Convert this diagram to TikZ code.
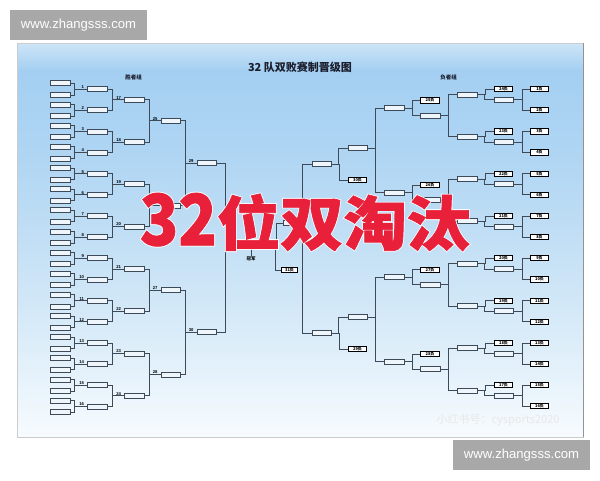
\documentclass[tikz,border=0pt]{standalone}
\usepackage{graphicx}
\usepackage{fontspec}
\setmainfont{Liberation Sans}
\newfontfamily\cjk{Noto Sans CJK SC}
\newfontfamily\cjkheavy{Noto Sans CJK SC}[FakeBold=1.2]
\newfontfamily\cjkhalo{Noto Sans CJK SC}[FakeBold=4]
\usetikzlibrary{calc}

\definecolor{linegray}{HTML}{3E4A57}
\definecolor{slotfill}{HTML}{EEF5FB}
\definecolor{markgray}{HTML}{A8A8A8}
\definecolor{titleink}{HTML}{1B1F2E}
\definecolor{bannerred}{RGB}{232,32,58}
\definecolor{skytop}{HTML}{CDE5F7}
\definecolor{skyband}{HTML}{A4CFF2}
\definecolor{skyhigh}{HTML}{AFD5F3}
\definecolor{skymid}{HTML}{C4E0F5}
\definecolor{skylow}{HTML}{DCEDF9}
\definecolor{skyfoot}{HTML}{F7FBFE}
\pgfdeclareverticalshading{panelsky}{100bp}{color(0bp)=(skyfoot); color(25bp)=(skyfoot);
  color(37bp)=(skylow); color(49bp)=(skymid); color(61bp)=(skyhigh);
  color(71.5bp)=(skyband); color(75bp)=(skytop); color(100bp)=(skytop)}

\newcommand\bannertext[1]{\resizebox*{330pt}{58pt}{#1\bfseries\scalebox{1}[1.2]{32}位双淘汰}}

\begin{document}
\begin{tikzpicture}[x=1pt,y=-1pt,label distance=2.5pt,
  slot/.style={draw=linegray, line width=.5pt, fill=slotfill, minimum width=19.5pt, minimum height=5pt, inner sep=0pt},
  losebox/.style={draw=black, line width=.8pt, fill=white, minimum width=18.5pt, minimum height=5.2pt, inner sep=0pt, font=\cjk\bfseries\fontsize{4}{4}\selectfont},
  num/.style={font=\bfseries\fontsize{4.2}{4}\selectfont, inner sep=.3pt, anchor=south east},
  link/.style={draw=linegray, line width=.55pt},
  sitemark/.style={fill=markgray, text=white, minimum width=137pt, minimum height=30pt, inner sep=0pt, font=\fontsize{13.1}{13}\selectfont},
  grouphead/.style={font=\cjk\bfseries\fontsize{5.5}{5.5}\selectfont, text=titleink, inner sep=0pt},
  ]
\useasboundingbox (0,0) rectangle (600,480);
\fill[white] (0,0) rectangle (600,480);

% poster panel
\shade[shading=panelsky] (17,43) rectangle (583,437);
\draw[gray!40, line width=.6pt] (17,43) rectangle (583,437);
\draw[gray!85, line width=.7pt] (583,43) -- (583,437);

% site marks
\node[sitemark] (markA) at (78.5,25) {www.zhangsss.com};
\node[sitemark] (markB) at (521.5,455) {www.zhangsss.com};

% headings
\node[font=\cjk\bfseries\fontsize{11}{11}\selectfont, text=titleink] (title) at (300,67) {32 队双败赛制晋级图};
\node[grouphead] (winhead) at (133.5,77) {胜者组};
\node[grouphead] (losehead) at (448.5,77) {负者组};

% winners bracket
\foreach \k in {1,...,16}{
  \pgfmathsetmacro\yk{89+(\k-1)*21.15}
  \pgfmathtruncatemacro\pa{2*\k-1}
  \pgfmathtruncatemacro\pb{2*\k}
  \node[slot] (p\pa) at (60,\yk-5.8) {};
  \node[slot] (p\pb) at (60,\yk+5.8) {};
  \node[slot, label={[num]west:\k}] (wa\k) at (97,\yk) {};
  \draw[link] (p\pa.east) -- ++(4.5,0) |- (wa\k.west);
  \draw[link] (p\pb.east) -- ++(4.5,0) |- (wa\k.west);
}
\foreach \j in {1,...,8}{
  \pgfmathtruncatemacro\ja{2*\j-1}
  \pgfmathtruncatemacro\jb{2*\j}
  \pgfmathtruncatemacro\jn{16+\j}
  \node[slot, label={[num]west:\jn}] (wb\j) at (134,{89+(2*\j-1.5)*21.15}) {};
  \draw[link] (wa\ja.east) -- ++(5.5,0) |- (wb\j.west);
  \draw[link] (wa\jb.east) -- ++(5.5,0) |- (wb\j.west);
}
\foreach \i in {1,...,4}{
  \pgfmathtruncatemacro\ia{2*\i-1}
  \pgfmathtruncatemacro\ib{2*\i}
  \pgfmathtruncatemacro\in{24+\i}
  \node[slot, label={[num]west:\in}] (wc\i) at (170.5,{89+(4*\i-2.5)*21.15}) {};
  \draw[link] (wb\ia.east) -- ++(5,0) |- (wc\i.west);
  \draw[link] (wb\ib.east) -- ++(5,0) |- (wc\i.west);
}
\foreach \m in {1,2}{
  \pgfmathtruncatemacro\ma{2*\m-1}
  \pgfmathtruncatemacro\mb{2*\m}
  \pgfmathtruncatemacro\mn{28+\m}
  \node[slot, label={[num]west:\mn}] (wd\m) at (206.5,{89+(8*\m-4.5)*21.15}) {};
  \draw[link] (wc\ma.east) -- ++(5,0) |- (wd\m.west);
  \draw[link] (wc\mb.east) -- ++(5,0) |- (wd\m.west);
}

% final
\coordinate (champ) at (251,247);
\draw[link] (wd1.east) -- ++(9,0) |- (champ);
\draw[link] (wd2.east) -- ++(9,0) |- (champ);
\node[num, anchor=center] (finalno) at (254.5,236) {2};
\node[font=\cjk\bfseries\fontsize{4.5}{4.5}\selectfont, inner sep=.5pt] (champion) at (251,259) {冠军};
\draw[link] (champ) ++(0,-6) -- (champion.north);

% losers bracket
\foreach \k in {1,...,16}
  \node[losebox] (la\k) at (539.5,{89+(\k-1)*21.15}) {\k 负};
\foreach \j in {1,...,8}{
  \pgfmathtruncatemacro\ja{2*\j-1}
  \pgfmathtruncatemacro\jb{2*\j}
  \pgfmathtruncatemacro\jn{25-\j}
  \node[slot] (lb\j) at (503.5,{89+(2*\j-1.5)*21.15}) {};
  \node[losebox] (lx\j) at (503.5,{89+(2*\j-2)*21.15}) {\jn 负};
  \node[slot] (lc\j) at (467,{89+(2*\j-1.75)*21.15}) {};
  \draw[link] (la\ja.west) -- ++(-8,0) |- (lb\j.east);
  \draw[link] (la\jb.west) -- ++(-8,0) |- (lb\j.east);
  \draw[link] (lx\j.west) -- ++(-9,0) |- (lc\j.east);
  \draw[link] (lb\j.west) -- ++(-9,0) |- (lc\j.east);
}
\foreach \i in {1,...,4}{
  \pgfmathtruncatemacro\ia{2*\i-1}
  \pgfmathtruncatemacro\ib{2*\i}
  \pgfmathtruncatemacro\in{24+\i}
  \pgfmathsetmacro\yi{89+(4*\i-2.75)*21.15}
  \node[slot] (ld\i) at (430,\yi) {};
  \node[losebox] (ly\i) at (430,\yi-15) {\in 负};
  \node[slot] (le\i) at (394,\yi-7.5) {};
  \draw[link] (lc\ia.west) -- ++(-9,0) |- (ld\i.east);
  \draw[link] (lc\ib.west) -- ++(-9,0) |- (ld\i.east);
  \draw[link] (ly\i.west) -- ++(-8,0) |- (le\i.east);
  \draw[link] (ld\i.west) -- ++(-8,0) |- (le\i.east);
}
\foreach \m in {1,2}{
  \pgfmathtruncatemacro\ma{2*\m-1}
  \pgfmathtruncatemacro\mb{2*\m}
  \pgfmathtruncatemacro\mn{31-\m}
  \pgfmathsetmacro\ym{148+(\m-1)*169}
  \node[slot] (lf\m) at (357.5,\ym) {};
  \node[losebox] (lz\m) at (357.5,\ym+32) {\mn 负};
  \node[slot] (lg\m) at (321.5,\ym+16) {};
  \draw[link] (le\ma.west) -- ++(-9,0) |- (lf\m.east);
  \draw[link] (le\mb.west) -- ++(-9,0) |- (lf\m.east);
  \draw[link] (lf\m.west) -- ++(-9,0) |- (lg\m.east);
  \draw[link] (lz\m.west) -- ++(-9,0) |- (lg\m.east);
}
\node[slot, minimum width=17pt] (lh) at (291.5,223) {};
\node[losebox, minimum width=15.5pt] (lw) at (289.5,270) {31负};
\draw[link] (lg1.west) -- ++(-9,0) |- (lh.east);
\draw[link] (lg2.west) -- ++(-9,0) |- (lh.east);
\draw[link] (lh.west) -- ++(-6,0) |- (champ);
\draw[link] (lw.west) -- ++(-6,0) |- (champ);

% faint mark
\node[text=gray!18, font=\cjk\fontsize{11}{11}\selectfont] (xhs) at (498,420) {小红书号：cysports2020};

% banner
\node[text=white, opacity=.9, inner sep=0pt] (halo) at (305,222) {\bannertext{\cjkhalo}};
\node[text=bannerred, inner sep=0pt] (banner) at (305,222) {\bannertext{\cjkheavy}};
\end{tikzpicture}
\end{document}
